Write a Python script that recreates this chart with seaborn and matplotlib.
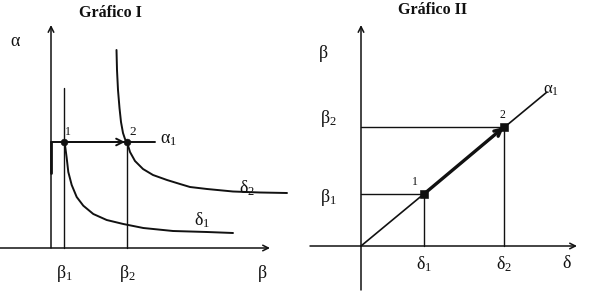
import matplotlib
matplotlib.use("Agg")
import matplotlib.pyplot as plt
import seaborn as sns
import pandas as pd

sns.set_theme(style="white")
plt.rcParams["font.family"] = ["Liberation Serif", "DejaVu Serif"]
plt.rcParams["mathtext.fontset"] = "custom"
plt.rcParams["mathtext.rm"] = "Liberation Serif"
plt.rcParams["mathtext.it"] = "Liberation Serif:italic"
plt.rcParams["mathtext.bf"] = "Liberation Serif:bold"

INK = "#111111"

# ---- Gráfico I: alpha against beta, two delta curves ----
beta1, beta2, alpha1 = 1.3, 7.6, 10.6
beta1_line_top = 16.0
alpha1_line_end = 10.4
axis1_x = [-5.1, 21.9]
axis1_y = [0.0, 22.3]

delta1_beta = [1.3, 1.4, 1.57, 1.73, 2.07, 2.57, 3.23, 4.23, 5.57, 7.23, 9.23,
               12.2, 15.6, 18.2]
delta1_alpha = [10.6, 10.3, 9.0, 7.6, 6.3, 5.1, 4.23, 3.4, 2.8, 2.4, 2.0,
                1.7, 1.6, 1.5]

delta2_beta = [6.55, 6.6, 6.7, 6.85, 7.0, 7.2, 7.4, 7.6, 7.9, 8.4, 9.2, 10.2,
               11.6, 12.9, 13.9, 15.6, 18.2, 20.9, 23.6]
delta2_alpha = [19.8, 17.8, 15.8, 14.0, 12.6, 11.5, 10.9, 10.6, 9.6, 8.7, 7.9,
                7.3, 6.8, 6.4, 6.1, 5.9, 5.65, 5.55, 5.5]

# ---- Gráfico II: beta against delta along the ray alpha1 ----
delta_pts = [6.3, 14.3]
beta_pts = [5.2, 11.9]
ray_delta = [0.0, 18.6]
ray_beta = [0.0, 15.4]
axis2_x = [-5.1, 21.6]
axis2_y = [-4.4, 22.1]

fig = plt.figure(figsize=(5.91, 3.02), dpi=100)
fig.patch.set_facecolor("white")
ax1 = fig.add_axes([0, 0, 300 / 591, 1])
ax2 = fig.add_axes([300 / 591, 0, 291 / 591, 1])
ax1.set_xlim(-5.1, 24.9)
ax1.set_ylim(-5.4, 24.8)
ax2.set_xlim(-6.1, 23.0)
ax2.set_ylim(-5.6, 24.6)
for ax in (ax1, ax2):
    ax.axis("off")


def axis_arrow(ax, start, end):
    ax.annotate("", xy=end, xytext=start,
                arrowprops=dict(arrowstyle="->", lw=1.1, color=INK,
                                shrinkA=0, shrinkB=0, mutation_scale=10))


def seg(ax, xs, ys, lw=1.0):
    sns.lineplot(x=xs, y=ys, ax=ax, color=INK, lw=lw, sort=False,
                 estimator=None, legend=False)


GREEK = dict(ha="center", va="center", fontsize=13, color=INK)

# Gráfico I
axis_arrow(ax1, (0, axis1_y[0]), (0, axis1_y[1]))
axis_arrow(ax1, (axis1_x[0], 0), (axis1_x[1], 0))
seg(ax1, [0, 0], [alpha1, 7.5], lw=2.0)
seg(ax1, [beta1, beta1], [0, beta1_line_top])
seg(ax1, [beta2, beta2], [0, alpha1])
seg(ax1, [0, alpha1_line_end], [alpha1, alpha1], lw=1.4)
ax1.annotate("", xy=(beta2 - 0.2, alpha1), xytext=(beta1, alpha1),
             arrowprops=dict(arrowstyle="->", lw=1.4, color=INK,
                             shrinkA=0, shrinkB=0, mutation_scale=12))
sns.lineplot(data=pd.DataFrame({"b": delta1_beta, "a": delta1_alpha}),
             x="b", y="a", ax=ax1, color=INK, lw=1.4, sort=False, estimator=None)
sns.lineplot(data=pd.DataFrame({"b": delta2_beta, "a": delta2_alpha}),
             x="b", y="a", ax=ax1, color=INK, lw=1.4, sort=False, estimator=None)
sns.scatterplot(x=[beta1, beta2], y=[alpha1, alpha1], ax=ax1, color=INK,
                s=24, marker="o", edgecolor=INK, zorder=5, legend=False)

ax1.text(5.9, 23.5, "Gráfico I", ha="center", va="center", fontsize=11.5,
         fontweight="bold", color=INK)
ax1.text(-3.6, 20.6, "α", **GREEK)
ax1.text(1.7, 11.6, "1", ha="center", va="center", fontsize=8.5, color=INK)
ax1.text(8.2, 11.6, "2", ha="center", va="center", fontsize=9.5, color=INK)
ax1.text(11.8, 10.8, r"$\mathregular{α_1}$", **GREEK)
ax1.text(19.6, 6.0, r"$\mathregular{δ_2}$", **GREEK)
ax1.text(15.1, 2.8, r"$\mathregular{δ_1}$", **GREEK)
ax1.text(beta1, -2.5, r"$\mathregular{β_1}$", **GREEK)
ax1.text(beta2, -2.5, r"$\mathregular{β_2}$", **GREEK)
ax1.text(21.1, -2.6, "β", **GREEK)

# Gráfico II
axis_arrow(ax2, (0, axis2_y[0]), (0, axis2_y[1]))
axis_arrow(ax2, (axis2_x[0], 0), (axis2_x[1], 0))
for d, b in zip(delta_pts, beta_pts):
    seg(ax2, [0, d], [b, b])
    seg(ax2, [d, d], [0, b])
seg(ax2, ray_delta, ray_beta, lw=1.2)
ax2.annotate("", xy=(delta_pts[1], beta_pts[1]), xytext=(delta_pts[0], beta_pts[0]),
             arrowprops=dict(arrowstyle="->", lw=2.4, color=INK,
                             shrinkA=0, shrinkB=0, mutation_scale=12))
sns.scatterplot(x=delta_pts, y=beta_pts, ax=ax2, color=INK, s=30, marker="s",
                edgecolor=INK, zorder=5, legend=False)

ax2.text(7.2, 23.6, "Gráfico II", ha="center", va="center", fontsize=11.5,
         fontweight="bold", color=INK)
ax2.text(-3.8, 19.3, "β", **GREEK)
ax2.text(-3.3, 12.8, r"$\mathregular{β_2}$", **GREEK)
ax2.text(-3.3, 4.9, r"$\mathregular{β_1}$", **GREEK)
ax2.text(delta_pts[0], -1.8, r"$\mathregular{δ_1}$", **GREEK)
ax2.text(delta_pts[1], -1.8, r"$\mathregular{δ_2}$", **GREEK)
ax2.text(20.6, -1.7, "δ", **GREEK)
ax2.text(19.0, 15.6, r"$\mathregular{α_1}$", ha="center", va="center", fontsize=12, color=INK)
ax2.text(5.4, 6.4, "1", ha="center", va="center", fontsize=8.5, color=INK)
ax2.text(14.1, 13.1, "2", ha="center", va="center", fontsize=8.5, color=INK)

fig.savefig("out.png", dpi=100, facecolor="white")
